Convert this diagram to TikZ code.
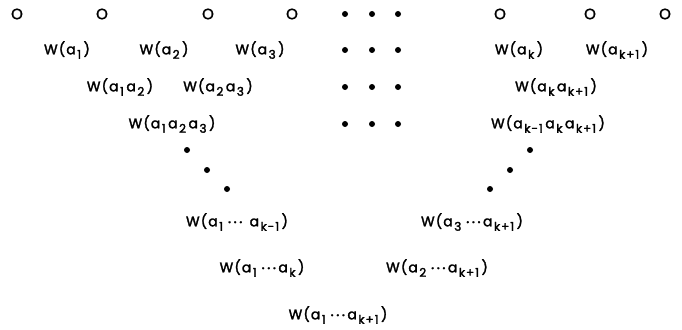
\documentclass[tikz,border=0pt]{standalone}
\usepackage{fontspec}
\setmainfont{Poppins}[LetterSpace=8,FakeBold=2]
\newcommand{\subx}[1]{\kern1.5pt\raisebox{-0.32em}{\fontsize{12}{13}\selectfont #1}\kern2.5pt}
\newcommand{\mdot}{\raisebox{0.1em}{\fontsize{8}{8}\selectfont •}}
\newcommand{\mdots}{\,\mdot\,\mdot\,\mdot\,}
\begin{document}
\begin{tikzpicture}[x=1pt,y=-1pt,
  lbl/.style={inner sep=0pt,font=\fontsize{14}{16}\selectfont},
  zero/.style={inner sep=0pt,font=\fontsize{15}{16}\selectfont},
  dot/.style={circle,fill=black,inner sep=0pt,minimum size=6pt}]
\useasboundingbox (0,0) rectangle (682,329);
% row 1
\foreach \x/\n in {17/o1,102/o2,208/o3,292/o4,500/o5,590/o6,665/o7}
  \node[zero] (\n) at (\x,14) {O};
\foreach \y/\r in {14/a,50/b,87/c,124/d}
  \foreach \x/\c in {345/1,372/2,398/3}
    \node[dot] (d\r\c) at (\x,\y) {};
% row 2
\node[lbl] (w1) at (67,50) {W(a\subx{1})};
\node[lbl] (w2) at (164,50) {W(a\subx{2})};
\node[lbl] (w3) at (260,50) {W(a\subx{3})};
\node[lbl] (wk) at (519,50) {W(a\subx{k})};
\node[lbl] (wk1) at (617,50) {W(a\subx{k+1})};
% row 3
\node[lbl] (w12) at (120,87) {W(a\subx{1}a\subx{2})};
\node[lbl] (w23) at (218,87) {W(a\subx{2}a\subx{3})};
\node[lbl] (wkk1) at (556,87) {W(a\subx{k}a\subx{k+1})};
% row 4
\node[lbl] (w123) at (172,124) {W(a\subx{1}a\subx{2}a\subx{3})};
\node[lbl] (wkm) at (548,124) {W(a\subx{k-1}a\subx{k}a\subx{k+1})};
% diagonal dots
\node[dot] (l1) at (187,150) {};
\node[dot] (l2) at (207,170) {};
\node[dot] (l3) at (227,189) {};
\node[dot] (r1) at (530,150) {};
\node[dot] (r2) at (510,170) {};
\node[dot] (r3) at (490,189) {};
% lower rows
\node[lbl] (wa) at (237,222) {W(a\subx{1}\mdots\ a\subx{k-1})};
\node[lbl] (wb) at (472,222) {W(a\subx{3}\mdots a\subx{k+1})};
\node[lbl] (wc) at (262,268) {W(a\subx{1}\mdots a\subx{k})};
\node[lbl] (wd) at (437,268) {W(a\subx{2}\mdots a\subx{k+1})};
\node[lbl] (we) at (338,315) {W(a\subx{1}\mdots a\subx{k+1})};
\end{tikzpicture}
\end{document}
